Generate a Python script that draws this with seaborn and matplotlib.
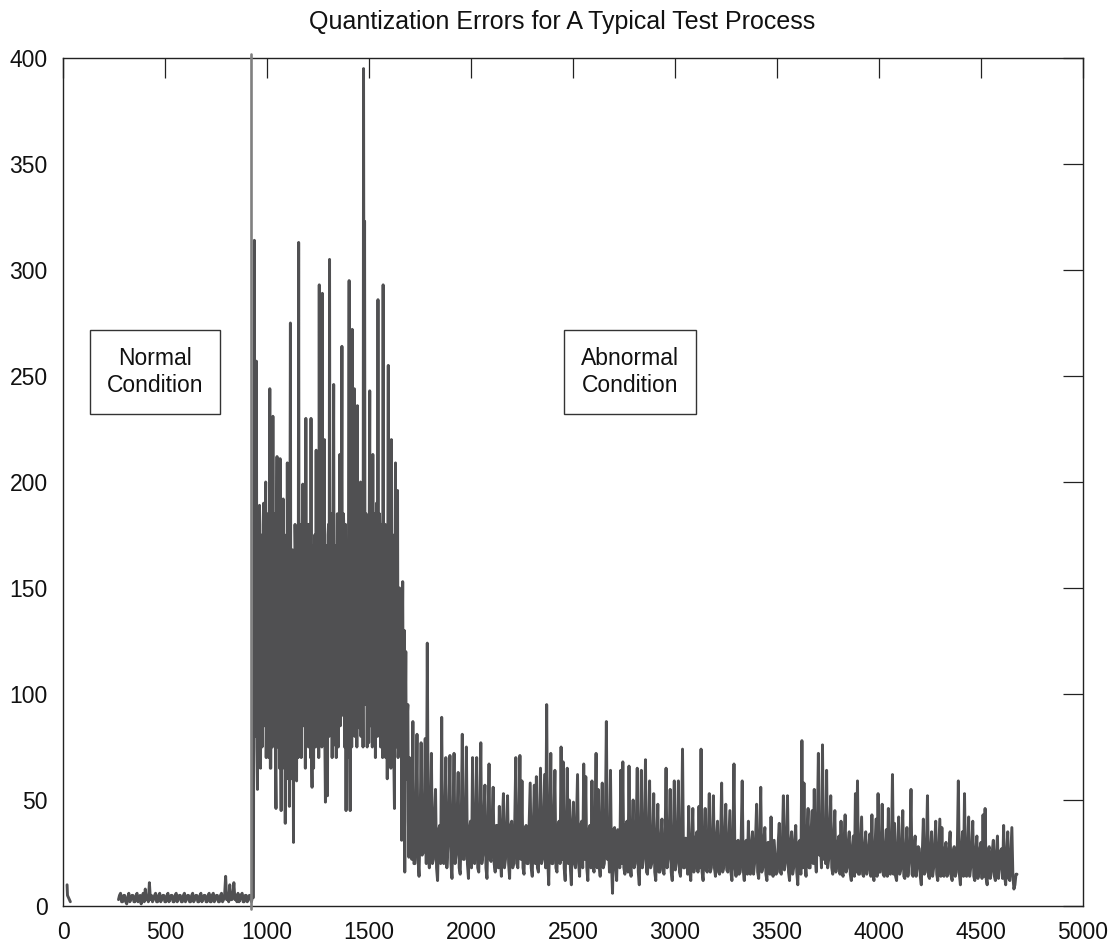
import numpy as np
import pandas as pd
import matplotlib
matplotlib.use("Agg")
import matplotlib.pyplot as plt
import seaborn as sns

# ---------------- data ----------------
title = "Quantization Errors for A Typical Test Process"
x_ticks = [0, 500, 1000, 1500, 2000, 2500, 3000, 3500, 4000, 4500, 5000]
y_ticks = [0, 50, 100, 150, 200, 250, 300, 350, 400]

# short piece at the very start
start_x = [20, 22, 36]
start_y = [10, 5, 2]

# normal condition: extreme readings and in-between band readings (alternating samples)
normal_start, normal_step = 272, 10.1
normal_vals = [
    3, 6, 2, 5, 1, 6, 3, 5, 2, 6,
    3, 1, 6, 8, 4, 11, 5, 3, 6, 2,
    6, 3, 5, 2, 6, 3, 5, 2, 6, 3,
    5, 2, 6, 3, 5, 2, 6, 3, 5, 2,
    6, 3, 5, 2, 6, 2, 6, 3, 5, 2,
    6, 3, 14, 4, 10, 3, 11, 4, 6, 3,
    6, 2, 5, 3, 5, 4,
]
normal_body = [
    5, 2, 5, 2, 4, 2, 5, 2, 5, 2,
    5, 4, 2, 3, 2, 3, 2, 5, 2, 5,
    2, 5, 2, 5, 2, 5, 2, 5, 2, 5,
    2, 5, 2, 5, 2, 5, 2, 5, 2, 5,
    2, 5, 2, 5, 2, 5, 2, 5, 2, 5,
    2, 5, 3, 2, 3, 5, 3, 2, 2, 5,
    2, 5, 2, 5, 2, 4,
]

# abnormal surge
surge_start, surge_step = 938, 5.05
surge_vals = [
    314, 120, 257, 55, 150, 189, 65, 170, 97, 190, 120, 200, 110, 185, 70, 244, 65, 160, 231, 100,
    150, 46, 212, 130, 170, 211, 45, 150, 192, 100, 39, 173, 209, 120, 47, 275, 140, 168, 30, 130,
    165, 59, 150, 313, 110, 170, 95, 199, 120, 160, 230, 83, 180, 105, 165, 230, 56, 150, 120, 170,
    215, 100, 160, 293, 110, 175, 289, 95, 220, 49, 160, 52, 180, 305, 100, 170, 120, 246, 76, 160,
    130, 185, 110, 213, 95, 264, 120, 175, 100, 45, 160, 130, 295, 45, 180, 272, 110, 244, 130, 180,
    236, 120, 84, 200, 140, 170, 395, 323, 110, 180, 130, 77, 243, 120, 175, 213, 100, 160, 130, 190,
    286, 110, 170, 90, 160, 293, 100, 180, 120, 60, 255, 110, 160, 220, 95, 170, 46, 209, 120, 196,
    80, 150, 100, 31, 153, 70, 16, 120, 60, 95, 23, 55,
]
surge_body = [
    80, 180, 75, 170, 70, 95, 175, 75, 180, 85, 175, 70, 180, 75, 170, 65, 175, 75, 95, 185,
    65, 165, 75, 180, 65, 85, 170, 65, 95, 175, 160, 60, 85, 175, 170, 75, 60, 85, 165, 180,
    65, 175, 70, 85, 180, 70, 175, 85, 180, 65, 95, 175, 75, 180, 70, 80, 170, 65, 175, 75,
    85, 185, 70, 95, 185, 75, 85, 180, 75, 170, 70, 175, 80, 95, 185, 70, 180, 85, 170, 70,
    185, 75, 180, 85, 175, 90, 185, 75, 180, 170, 70, 185, 85, 175, 75, 95, 185, 80, 185, 75,
    85, 185, 170, 80, 190, 75, 200, 95, 185, 75, 180, 175, 85, 190, 75, 85, 185, 70, 190, 80,
    85, 185, 75, 180, 70, 90, 180, 70, 175, 165, 85, 180, 65, 85, 175, 65, 160, 75, 170, 70,
    150, 85, 140, 120, 80, 130, 90, 60, 90, 40, 70, 30,
]

# abnormal decay
decay_start, decay_step = 1705, 10.09
decay_vals = [
    40, 87, 20, 81, 14, 77, 25, 79, 124, 18,
    72, 22, 55, 12, 38, 89, 20, 70, 28, 71,
    13, 72, 24, 63, 15, 81, 22, 75, 13, 40,
    70, 20, 70, 16, 77, 24, 57, 13, 67, 21,
    56, 16, 38, 47, 14, 53, 22, 52, 13, 40,
    20, 70, 18, 71, 59, 15, 38, 20, 58, 14,
    57, 61, 16, 65, 22, 62, 95, 10, 72, 20,
    64, 16, 40, 75, 68, 12, 65, 50, 10, 49,
    18, 62, 14, 40, 67, 61, 12, 38, 59, 16,
    72, 55, 14, 58, 20, 87, 30, 64, 6, 37,
    12, 35, 64, 68, 15, 40, 66, 14, 50, 20,
    65, 10, 64, 22, 69, 15, 59, 20, 53, 12,
    48, 16, 41, 15, 65, 22, 55, 12, 59, 20,
    59, 14, 74, 18, 30, 47, 12, 46, 20, 35,
    47, 74, 12, 46, 16, 53, 18, 52, 14, 40,
    15, 58, 18, 48, 16, 45, 12, 67, 14, 31,
    16, 59, 12, 31, 40, 15, 35, 20, 48, 13,
    56, 18, 37, 12, 30, 42, 14, 23, 16, 39,
    15, 52, 20, 52, 12, 35, 18, 38, 10, 31,
    78, 58, 14, 46, 18, 45, 55, 16, 72, 30,
    76, 40, 64, 22, 52, 15, 45, 20, 33, 40,
    14, 43, 18, 35, 12, 33, 53, 59, 15, 42,
    14, 35, 18, 34, 43, 12, 41, 53, 16, 48,
    14, 36, 46, 15, 62, 39, 12, 42, 17, 45,
    13, 37, 20, 55, 14, 33, 18, 27, 10, 41,
    16, 52, 13, 35, 18, 40, 12, 41, 37, 14,
    30, 15, 35, 12, 28, 16, 59, 10, 35, 53,
    14, 42, 18, 40, 12, 33, 16, 30, 43, 46,
    10, 28, 16, 31, 12, 33, 18, 27, 38, 10,
    35, 12, 37, 8, 15,
]
decay_body = [
    22, 20, 40, 22, 38, 24, 42, 20, 25, 40,
    20, 42, 18, 36, 20, 22, 40, 18, 42, 20,
    38, 20, 42, 18, 40, 22, 38, 20, 36, 18,
    22, 40, 18, 38, 20, 42, 18, 36, 22, 40,
    20, 38, 18, 22, 40, 18, 36, 20, 38, 18,
    40, 20, 38, 22, 18, 36, 20, 40, 18, 38,
    20, 18, 40, 20, 42, 18, 22, 38, 20, 40,
    18, 38, 20, 22, 18, 36, 20, 18, 40, 20,
    40, 20, 38, 18, 22, 18, 36, 18, 20, 38,
    18, 20, 40, 18, 38, 22, 16, 20, 36, 18,
    36, 18, 20, 18, 38, 16, 20, 34, 18, 36,
    16, 32, 18, 34, 16, 32, 18, 30, 16, 32,
    16, 32, 17, 30, 18, 32, 16, 30, 17, 32,
    16, 30, 18, 32, 15, 17, 30, 16, 32, 16,
    18, 16, 30, 17, 32, 16, 30, 18, 32, 16,
    30, 16, 32, 17, 30, 16, 31, 18, 30, 15,
    32, 17, 30, 15, 16, 30, 15, 32, 16, 30,
    16, 31, 15, 30, 15, 17, 31, 15, 30, 16,
    30, 17, 32, 16, 30, 15, 31, 16, 30, 15,
    18, 20, 34, 18, 36, 20, 22, 38, 24, 18,
    22, 20, 18, 36, 18, 32, 16, 30, 15, 16,
    30, 16, 30, 15, 28, 14, 16, 15, 28, 15,
    28, 15, 28, 14, 15, 27, 14, 16, 28, 15,
    27, 14, 16, 28, 15, 14, 27, 15, 28, 14,
    26, 14, 28, 15, 27, 14, 28, 14, 26, 15,
    27, 14, 26, 14, 28, 15, 26, 14, 15, 27,
    14, 27, 14, 26, 14, 27, 15, 26, 14, 15,
    26, 14, 27, 14, 26, 13, 27, 13, 14, 13,
    26, 13, 26, 14, 25, 13, 26, 13, 14, 25,
    13, 25, 14, 10, 15,
]

# onset marker line
onset_x = [920, 920]
onset_y = [-1.5, 402]

box_labels = ["Normal\nCondition", "Abnormal\nCondition"]
box_x = [451, 2779]
box_y = [252, 252]


# ---------------- assemble ----------------
def interleave(start, step, vals, body):
    y = np.column_stack([vals, body]).ravel().astype(float)
    x = start + (step / 2.0) * np.arange(len(y))
    return x, y


nx, ny = interleave(normal_start, normal_step, normal_vals, normal_body)
sx, sy = interleave(surge_start, surge_step, surge_vals, surge_body)
dx, dy = interleave(decay_start, decay_step, decay_vals, decay_body)
main_df = pd.DataFrame({"x": np.concatenate([nx, sx, dx]),
                        "y": np.concatenate([ny, sy, dy])})
start_df = pd.DataFrame({"x": start_x, "y": start_y})
onset_df = pd.DataFrame({"x": onset_x, "y": onset_y})

# ---------------- plot ----------------
sns.set_theme(style="white")
plt.rcParams["font.family"] = ["Liberation Sans", "DejaVu Sans"]

fig = plt.figure(figsize=(11.12, 9.5), dpi=100)
ax = fig.add_axes([63 / 1112, 44 / 950, 1020 / 1112, 848 / 950])

line_color = "#505052"
sns.lineplot(data=start_df, x="x", y="y", ax=ax, color=line_color, linewidth=2.1,
             estimator=None, sort=False, legend=False)
sns.lineplot(data=main_df, x="x", y="y", ax=ax, color=line_color, linewidth=2.1,
             estimator=None, sort=False, legend=False)
sns.lineplot(data=onset_df, x="x", y="y", ax=ax, color="#808080", linewidth=1.9,
             estimator=None, sort=False, legend=False, clip_on=False, zorder=4)

ax.set_xlim(0, 5000)
ax.set_ylim(0, 400)
ax.set_xticks(x_ticks)
ax.set_yticks(y_ticks)
ax.set_xticklabels([str(v) for v in x_ticks])
ax.set_yticklabels([str(v) for v in y_ticks])
ax.set_xlabel("")
ax.set_ylabel("")
ax.tick_params(direction="in", length=14.4, width=0.9, color="#222222",
               top=True, right=True, labelsize=16.5, labelcolor="#111111", pad=11)
for s in ax.spines.values():
    s.set_color("#222222")
    s.set_linewidth(1.0)
    s.set_visible(True)

fig.text(562 / 1112, 1 - 22 / 950, title, ha="center", va="center",
         fontsize=18, color="#111111")

for lab, bx, by in zip(box_labels, box_x, box_y):
    ax.text(bx, by, lab, ha="center", va="center", fontsize=16.5, color="#111111",
            linespacing=1.2,
            bbox=dict(boxstyle="square,pad=0.75", fc="white", ec="#333333", lw=1.0),
            zorder=5)

fig.savefig("out.png", dpi=100)
